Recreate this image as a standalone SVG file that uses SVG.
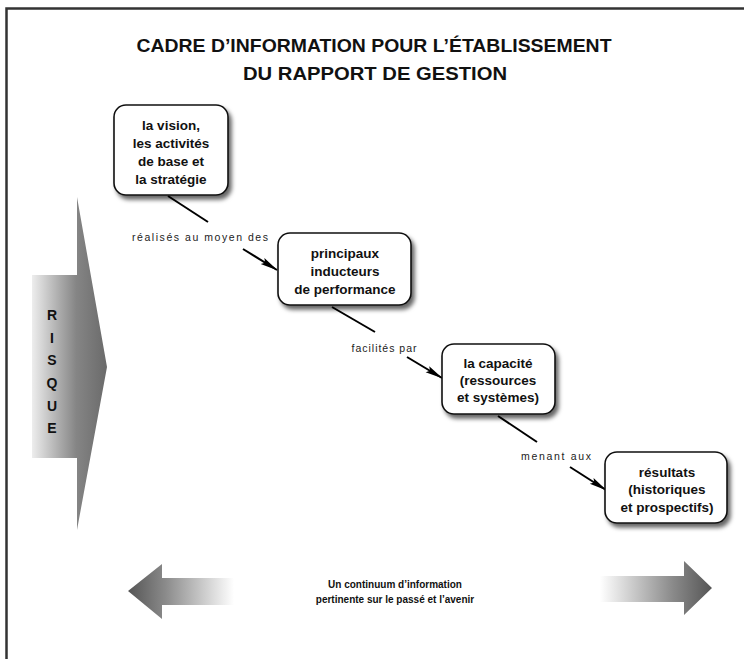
<svg xmlns="http://www.w3.org/2000/svg" width="744" height="659" viewBox="0 0 744 659">
<defs>
<style>
.title{font-family:"Liberation Sans",Arial,sans-serif;font-weight:bold;font-size:19px;fill:#111;text-anchor:middle}
.node rect{fill:#fff;stroke:#111;stroke-width:1.6;filter:url(#sh)}
.node text{font-family:"Liberation Sans",Arial,sans-serif;font-weight:bold;font-size:13.5px;fill:#111;text-anchor:middle}
.lbl{font-family:"Liberation Sans",Arial,sans-serif;font-size:10.5px;fill:#222;text-anchor:middle}
.conn line{stroke:#000;stroke-width:2}
.risk{font-family:"Liberation Sans",Arial,sans-serif;font-weight:bold;font-size:14px;fill:#111;text-anchor:middle}
.bot{font-family:"Liberation Sans",Arial,sans-serif;font-weight:bold;font-size:10px;fill:#111;text-anchor:middle}
</style>
<filter id="sh" x="-20%" y="-20%" width="150%" height="150%">
<feDropShadow dx="3" dy="4" stdDeviation="2" flood-color="#000" flood-opacity="0.6"/>
</filter>
<marker id="ah" viewBox="0 0 18 9" refX="17" refY="4.5" markerWidth="18" markerHeight="9" markerUnits="userSpaceOnUse" orient="auto">
<path d="M0,1 L18,4.5 L0,8 L3,4.5 Z" fill="#000"/>
</marker>
<linearGradient id="gr" gradientUnits="userSpaceOnUse" x1="30" y1="0" x2="107" y2="0">
<stop offset="0" stop-color="#f2f2f2"/>
<stop offset="0.4" stop-color="#a8a8a8"/>
<stop offset="0.6" stop-color="#858585"/>
<stop offset="1" stop-color="#6a6a6a"/>
</linearGradient>
<linearGradient id="gl" gradientUnits="userSpaceOnUse" x1="128" y1="0" x2="234" y2="0">
<stop offset="0" stop-color="#555"/>
<stop offset="0.35" stop-color="#8a8a8a"/>
<stop offset="1" stop-color="#fff"/>
</linearGradient>
<linearGradient id="grt" gradientUnits="userSpaceOnUse" x1="600" y1="0" x2="712" y2="0">
<stop offset="0" stop-color="#fff"/>
<stop offset="0.65" stop-color="#8a8a8a"/>
<stop offset="1" stop-color="#555"/>
</linearGradient>
</defs>
<rect width="744" height="659" fill="#fff"/>
<path d="M744,8.5 H6.5 V659" fill="none" stroke="#333" stroke-width="2.5"/>
<text class="title" x="374" y="52" textLength="475" lengthAdjust="spacingAndGlyphs">CADRE D’INFORMATION POUR L’ÉTABLISSEMENT</text>
<text class="title" x="375" y="80" textLength="264" lengthAdjust="spacingAndGlyphs">DU RAPPORT DE GESTION</text>
<g id="risque">
<path d="M32,275 L77,275 L77,197 L107,367 L77,530 L77,458 L32,458 Z" fill="url(#gr)"/>
<text class="risk" x="52" y="320">R</text>
<text class="risk" x="52" y="343">I</text>
<text class="risk" x="52" y="365">S</text>
<text class="risk" x="52" y="388">Q</text>
<text class="risk" x="52" y="411">U</text>
<text class="risk" x="52" y="433">E</text>
</g>
<g id="connectors" class="conn">
<line x1="168" y1="196" x2="208" y2="222"/>
<line x1="243" y1="249" x2="277" y2="270" marker-end="url(#ah)"/>
<line x1="332" y1="307" x2="375" y2="332"/>
<line x1="407" y1="357" x2="442" y2="378" marker-end="url(#ah)"/>
<line x1="498" y1="416" x2="537" y2="442"/>
<line x1="570" y1="467" x2="606" y2="490" marker-end="url(#ah)"/>
<text class="lbl" x="200" y="241" textLength="136" lengthAdjust="spacing">réalisés au moyen des</text>
<text class="lbl" x="384" y="352" textLength="65" lengthAdjust="spacing">facilités par</text>
<text class="lbl" x="556" y="460" textLength="70" lengthAdjust="spacing">menant aux</text>
</g>
<g id="n1" class="node">
<rect x="114" y="105" width="114" height="90" rx="12"/>
<text x="171" y="130">la vision,</text>
<text x="171" y="148">les activités</text>
<text x="171" y="166">de base et</text>
<text x="171" y="184">la stratégie</text>
</g>
<g id="n2" class="node">
<rect x="278" y="233" width="133" height="72" rx="12"/>
<text x="345" y="258">principaux</text>
<text x="345" y="276">inducteurs</text>
<text x="345" y="294">de performance</text>
</g>
<g id="n3" class="node">
<rect x="442" y="344" width="113" height="70" rx="12"/>
<text x="498" y="368">la capacité</text>
<text x="498" y="385">(ressources</text>
<text x="498" y="402">et systèmes)</text>
</g>
<g id="n4" class="node">
<rect x="605" y="452" width="122" height="71" rx="12"/>
<text x="667" y="477">résultats</text>
<text x="667" y="494">(historiques</text>
<text x="667" y="512">et prospectifs)</text>
</g>
<g id="continuum">
<path d="M128,591 L162,564 L162,578 L234,578 L234,605 L162,605 L162,619 Z" fill="url(#gl)"/>
<path d="M600,576 L684,576 L684,561 L712,588 L684,615 L684,602 L600,602 Z" fill="url(#grt)"/>
<text class="bot" x="395" y="588">Un continuum d’information</text>
<text class="bot" x="395" y="603">pertinente sur le passé et l’avenir</text>
</g>
</svg>
